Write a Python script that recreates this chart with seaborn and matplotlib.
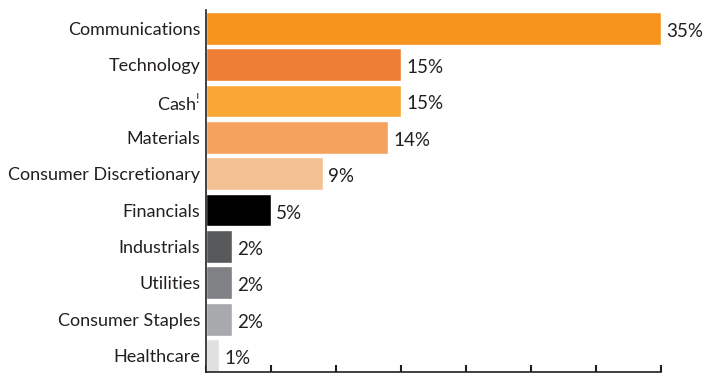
import matplotlib
matplotlib.use("Agg")
import matplotlib.pyplot as plt
import seaborn as sns
import pandas as pd

categories = ["Communications", "Technology", "Cash$^{\\mathregular{!}}$", "Materials",
              "Consumer Discretionary", "Financials", "Industrials", "Utilities",
              "Consumer Staples", "Healthcare"]
values = [35, 15, 15, 14, 9, 5, 2, 2, 2, 1]
labels = ["35%", "15%", "15%", "14%", "9%", "5%", "2%", "2%", "2%", "1%"]
colors = ["#F7941E", "#EC7E35", "#FAA634", "#F6A25F", "#F3C293", "#000000",
          "#58595B", "#808184", "#A7A9AC", "#E0E0E1"]

sns.set_style("white")
plt.rcParams["font.family"] = ["Lato", "DejaVu Sans"]

df = pd.DataFrame({"cat": categories, "val": values})
fig = plt.figure(figsize=(7.05, 3.74), dpi=100)
ax = fig.add_axes([206/705, 2/374, (661-206)/705, 362/374])
sns.barplot(data=df, x="val", y="cat", hue="cat", palette=colors, orient="h",
            width=0.9, legend=False, ax=ax, saturation=1)
ax.set_xlim(0, 35)
ax.set_ylim(9.45, -0.5)
ax.set_xlabel("")
ax.set_ylabel("")
for i, (v, l) in enumerate(zip(values, labels)):
    ax.text(v + 0.4, i + 0.08, l, va="center", ha="left", fontsize=13.5, color="#231F20")
sns.despine(ax=ax, top=True, right=True)
for s in ["left", "bottom"]:
    ax.spines[s].set_color("#231F20")
    ax.spines[s].set_linewidth(1.2)
ax.set_xticks([0, 5, 10, 15, 20, 25, 30, 35])
ax.set_xticklabels([])
ax.tick_params(axis="x", direction="in", length=5, width=1.5, color="#231F20", bottom=True)
ax.tick_params(axis="y", length=0, labelsize=13, labelcolor="#231F20", pad=4)
fig.savefig("out.png", dpi=100)
